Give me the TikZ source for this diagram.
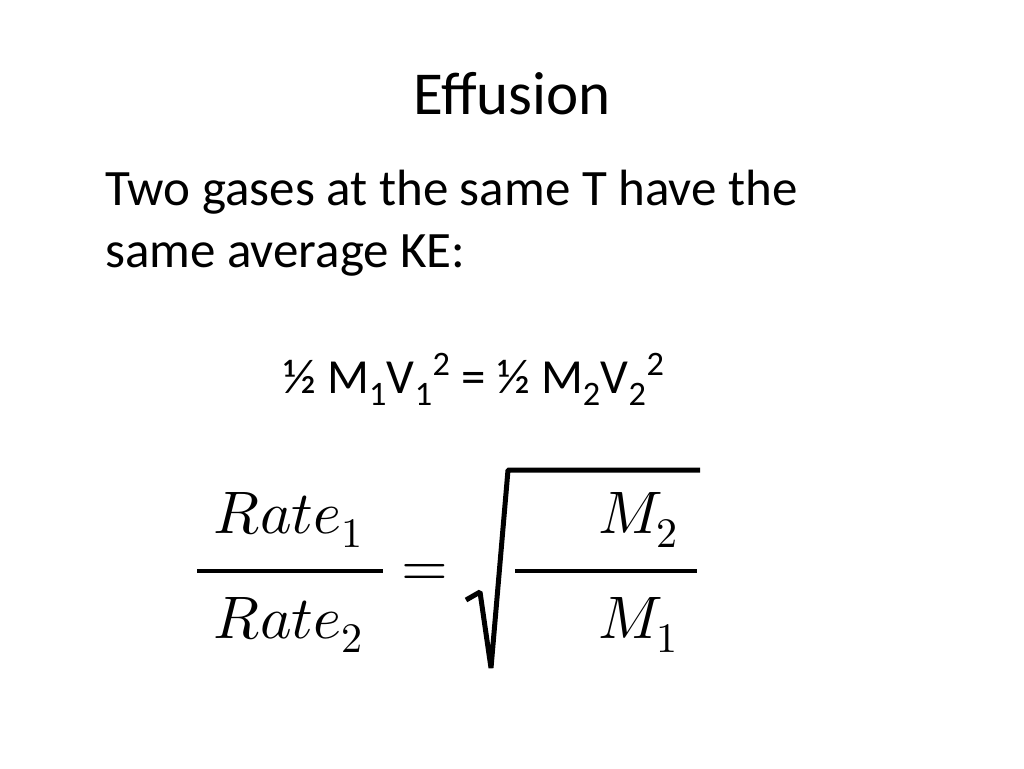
\documentclass[tikz,border=0pt]{standalone}
\usepackage{fontspec}
\usepackage{unicode-math}
\setmainfont{Carlito}
\setmathfont{Latin Modern Math}
\begin{document}
\begin{tikzpicture}[x=1pt,y=-1pt,
  body/.style={anchor=base west,inner sep=0pt,font=\fontsize{51}{60}\selectfont},
  mth/.style={inner sep=0pt,font=\fontsize{60}{70}\selectfont}]
\useasboundingbox[fill=white] (0,0) rectangle (1024,768);
\node[anchor=base,inner sep=0pt,font=\fontsize{61}{70}\selectfont] (title) at (512,114) {Effusion};
\node[body] (l1) at (105,205) {Two gases at the same T have the};
\node[body] (l2) at (105,267) {same average KE:};
\node[anchor=base west,inner sep=0pt,font=\fontsize{49}{58}\selectfont] (eq) at (283,393) {½ M\textsubscript{1}V\textsubscript{1}\textsuperscript{2} = ½ M\textsubscript{2}V\textsubscript{2}\textsuperscript{2}};
\node[mth] (r1) at (288,520) {$Rate_1$};
\node[mth] (r2) at (288,625) {$Rate_2$};
\draw[line width=4pt] (197,571) coordinate (fa) -- (383,571) coordinate (fb);
\node[mth] (eqs) at (425,575) {$=$};
\draw[line width=5pt,line join=bevel] (466,600) coordinate (s0) -- (480,592) -- (491,668) -- (508,470) -- (700,470) coordinate (s1);
\draw[line width=4pt] (515,571) coordinate (ga) -- (697,571) coordinate (gb);
\node[mth] (m2) at (638,520) {$M_2$};
\node[mth] (m1) at (638,625) {$M_1$};
\end{tikzpicture}
\end{document}
